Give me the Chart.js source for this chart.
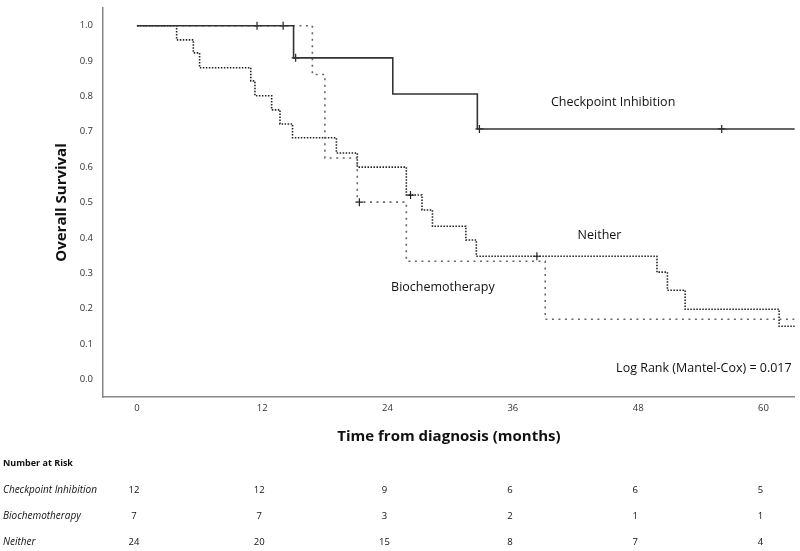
<!doctype html>
<html lang="en">
<head>
<meta charset="utf-8">
<title>Overall survival by treatment</title>
<style>
  * { margin: 0; padding: 0; }
  body { background: #ffffff; }
  .chartBox { width: 800px; height: 551px; }
</style>
</head>
<body>
<div class="chartBox"><canvas id="kmChart" width="800" height="551"></canvas></div>
<script src="https://cdn.jsdelivr.net/npm/chart.js"></script>
<script>
// Kaplan-Meier steps: month of each drop and survival just after it
const checkTimes   = [0, 15.0, 24.5, 32.6, 63];
const checkSurv    = [1.0, 0.909, 0.807, 0.708, 0.708];
const bioTimes     = [0, 16.8, 18.0, 21.1, 25.8, 39.1, 63];
const bioSurv      = [1.0, 0.862, 0.626, 0.501, 0.334, 0.170, 0.170];
const neitherTimes = [0, 3.8, 5.4, 6.0, 10.9, 11.3, 12.9, 13.7, 14.9, 19.1, 21.1, 25.8, 27.3, 28.3, 31.5, 32.5, 49.8, 50.8, 52.5, 61.5, 63];
const neitherSurv  = [1.0, 0.960, 0.923, 0.881, 0.844, 0.802, 0.762, 0.722, 0.683, 0.640, 0.600, 0.521, 0.479, 0.433, 0.394, 0.348, 0.303, 0.252, 0.198, 0.150, 0.150];

// censored observations
const checkCensorT   = [11.5, 14.0, 15.2, 32.8, 56.0];
const checkCensorS   = [1.0, 1.0, 0.909, 0.708, 0.708];
const bioCensorT     = [21.3];
const bioCensorS     = [0.501];
const neitherCensorT = [26.2, 38.3];
const neitherCensorS = [0.521, 0.348];

// number at risk table
const groupNames  = ['Checkpoint Inhibition', 'Biochemotherapy', 'Neither'];
const riskTimes   = [0, 12, 24, 36, 48, 60];
const riskCheck   = [12, 12, 9, 6, 6, 5];
const riskBio     = [7, 7, 3, 2, 1, 1];
const riskNeither = [24, 20, 15, 8, 7, 4];

// axis ticks
const xTicks = [0, 12, 24, 36, 48, 60];
const yTicks = [0, 0.1, 0.2, 0.3, 0.4, 0.5, 0.6, 0.7, 0.8, 0.9, 1.0];

const toPoints = (ts, ss) => ts.map((t, i) => ({ x: t, y: ss[i] }));

const fontName = '"Open Sans", sans-serif';

const curve = (label, ts, ss, color, dash) => ({
  type: 'line',
  label,
  data: toPoints(ts, ss),
  stepped: 'before',
  borderColor: color,
  borderWidth: 1.6,
  borderDash: dash,
  pointRadius: 0,
  fill: false
});

const censor = (label, ts, ss) => ({
  type: 'scatter',
  label,
  data: toPoints(ts, ss),
  pointStyle: 'cross',
  pointRadius: 4,
  borderColor: '#222',
  borderWidth: 1.2
});

// curve labels, log rank note and the number at risk rows
const textPlugin = {
  id: 'kmText',
  afterDraw(chart) {
    const { ctx } = chart;
    const x = chart.scales.x, y = chart.scales.y;
    ctx.save();
    ctx.fillStyle = '#111';
    ctx.textBaseline = 'middle';

    ctx.font = '12.5px ' + fontName;
    ctx.textAlign = 'center';
    ctx.fillText('Checkpoint Inhibition', x.getPixelForValue(45.6), y.getPixelForValue(0.782));
    ctx.fillText('Neither', x.getPixelForValue(44.3), y.getPixelForValue(0.408));
    ctx.fillText('Biochemotherapy', x.getPixelForValue(29.3), y.getPixelForValue(0.260));
    ctx.textAlign = 'right';
    ctx.fillText('Log Rank (Mantel-Cox) = 0.017', x.getPixelForValue(62.7), y.getPixelForValue(0.031));

    ctx.textAlign = 'left';
    ctx.font = 'bold 9px ' + fontName;
    ctx.fillText('Number at Risk', 3, 463);

    const rows = [riskCheck, riskBio, riskNeither];
    const rowY = [490, 516, 542];
    rows.forEach((vals, r) => {
      ctx.font = 'italic 10px ' + fontName;
      ctx.textAlign = 'left';
      ctx.fillText(groupNames[r], 3, rowY[r]);
      ctx.font = '9.5px ' + fontName;
      ctx.textAlign = 'center';
      vals.forEach((v, i) => {
        ctx.fillText(String(v), x.getPixelForValue(riskTimes[i]) - 3, rowY[r]);
      });
    });
    ctx.restore();
  }
};

const config = {
  data: {
    datasets: [
      curve('Checkpoint Inhibition', checkTimes, checkSurv, '#333', []),
      curve('Biochemotherapy', bioTimes, bioSurv, '#666', [2, 4.5]),
      curve('Neither', neitherTimes, neitherSurv, '#222', [1.5, 1.5]),
      censor('Checkpoint censored', checkCensorT, checkCensorS),
      censor('Biochemotherapy censored', bioCensorT, bioCensorS),
      censor('Neither censored', neitherCensorT, neitherCensorS)
    ]
  },
  options: {
    responsive: false,
    animation: false,
    layout: { padding: { top: 8, right: 5, left: 0, bottom: 0 } },
    plugins: { legend: { display: false }, tooltip: { enabled: false } },
    scales: {
      x: {
        type: 'linear',
        min: -3.25,
        max: 63,
        afterFit: s => { s.height = 154; s.paddingLeft = 0; s.paddingRight = 0; },
        afterBuildTicks: s => { s.ticks = xTicks.map(v => ({ value: v })); },
        grid: { display: false, drawTicks: false },
        border: { display: true, color: '#888', width: 1.5 },
        ticks: { padding: 6, color: '#333', font: { size: 9.5, family: fontName }, maxRotation: 0 },
        title: {
          display: true,
          text: 'Time from diagnosis (months)',
          color: '#111',
          font: { size: 15, weight: 'bold', family: fontName },
          padding: { top: 0, bottom: 105 }
        }
      },
      y: {
        min: -0.05,
        max: 1.05,
        afterFit: s => { s.width = 103; s.paddingTop = 0; s.paddingBottom = 0; },
        afterBuildTicks: s => { s.ticks = yTicks.map(v => ({ value: v })); },
        grid: { display: false, drawTicks: false },
        border: { display: true, color: '#888', width: 1.5 },
        ticks: {
          padding: 10,
          color: '#333',
          font: { size: 9.5, family: fontName },
          callback: v => Number(v).toFixed(1)
        },
        title: {
          display: true,
          text: 'Overall Survival',
          color: '#111',
          font: { size: 15, weight: 'bold', family: fontName },
          padding: { top: 53, bottom: 0 }
        }
      }
    }
  },
  plugins: [textPlugin]
};

const kmChart = new Chart(document.getElementById('kmChart'), config);
</script>
</body>
</html>
